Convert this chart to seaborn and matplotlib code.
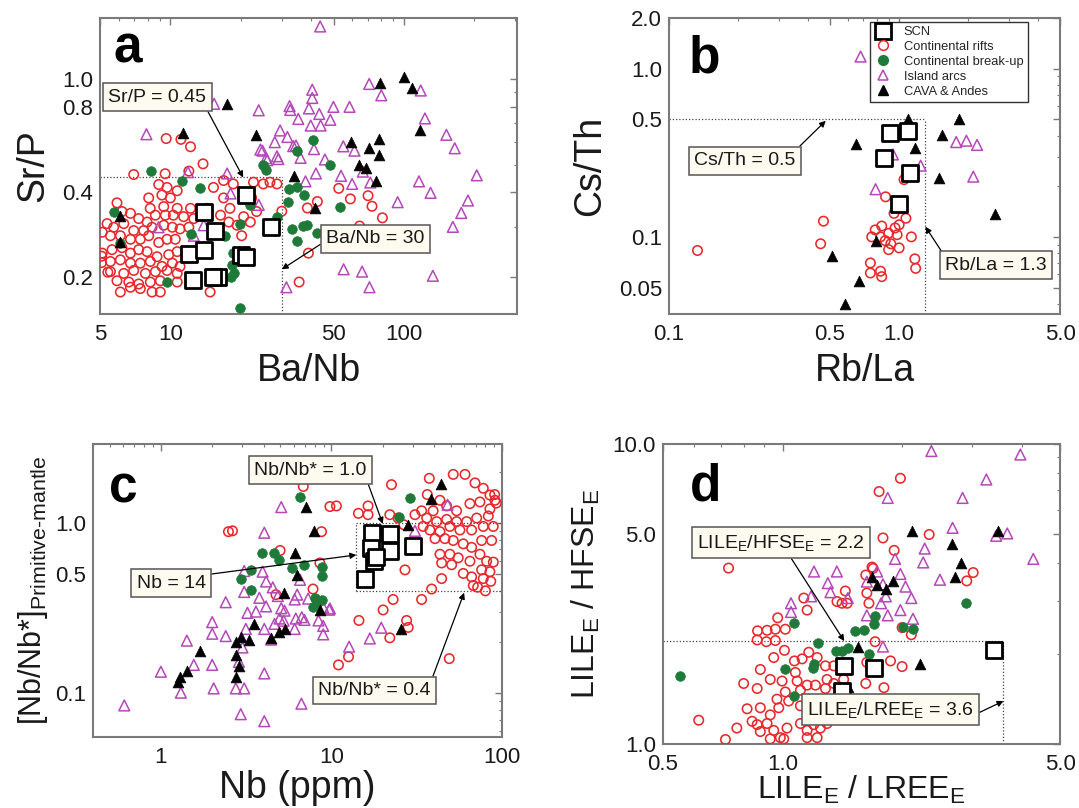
import numpy as np
import matplotlib
matplotlib.use("Agg")
import matplotlib.pyplot as plt
import seaborn as sns
from matplotlib.ticker import FixedLocator, FixedFormatter, LogLocator, NullFormatter
from matplotlib.lines import Line2D

# ---------------------------------------------------------------- data
groups = ["SCN", "Continental rifts", "Continental break-up", "Island arcs", "CAVA & Andes"]

# Panel a: Ba/Nb vs Sr/P
scn_a_x = [21, 14.0, 15.6, 12.0, 14.0, 27, 20, 21, 12.5, 16.0, 15.2]
scn_a_y = [0.39, 0.34, 0.29, 0.242, 0.25, 0.30, 0.24, 0.235, 0.195, 0.20, 0.20]

rift_a_x = [9.6, 11.1, 12.2, 13.8, 6.97, 9.5, 8.08, 8.92, 9.68, 10.7, 12.0, 9.2, 10.0, 8.2, 9.37,
            10.7, 12.2, 5.91, 6.21, 6.75, 7.32, 7.95, 8.63, 9.52, 10.3, 11.4, 12.6, 5.36, 5.72, 6.32,
            6.97, 7.69, 8.35, 9.37, 10.2, 11.0, 12.0, 5.11, 5.54, 6.11, 6.75, 7.44, 8.08, 8.92, 9.68,
            10.5, 5.11, 5.63, 6.21, 6.75, 7.32, 7.95, 8.77, 9.84, 10.7, 5.54, 6.11, 6.75, 7.44, 8.21,
            9.21, 10.2, 11.0, 5.54, 6.32, 6.97, 7.82, 8.63, 9.68, 10.7, 5.91, 6.64, 7.32, 8.21, 9.06,
            10.7, 6.11, 6.75, 7.44, 8.35, 9.06, 14.8, 16.9, 18.0, 16.4, 17.8, 19.3, 20.6, 22.0, 23.4,
            22.3, 25.0, 26.7, 28.6, 22.7, 18.6, 16.9, 20.2, 15.3, 14.3, 52.6, 59, 70.2, 73, 80.9,
            42.6, 38.6, 39, 35.6, 64.6, 5.08, 5.4, 5.08, 30.0]
rift_a_y = [0.618, 0.614, 0.578, 0.503, 0.461, 0.464, 0.381, 0.425, 0.415, 0.404, 0.474, 0.39, 0.381,
            0.35, 0.355, 0.35, 0.35, 0.366, 0.341, 0.336, 0.322, 0.313, 0.331, 0.331, 0.331, 0.327,
            0.322, 0.309, 0.30, 0.309, 0.292, 0.292, 0.30, 0.305, 0.30, 0.296, 0.30, 0.288, 0.28,
            0.28, 0.272, 0.272, 0.28, 0.265, 0.272, 0.272, 0.243, 0.25, 0.254, 0.243, 0.25, 0.246,
            0.236, 0.24, 0.246, 0.227, 0.23, 0.224, 0.224, 0.227, 0.218, 0.224, 0.218, 0.209, 0.206,
            0.211, 0.206, 0.209, 0.211, 0.206, 0.194, 0.192, 0.189, 0.192, 0.194, 0.192, 0.177,
            0.184, 0.182, 0.177, 0.177, 0.177, 0.381, 0.35, 0.331, 0.313, 0.305, 0.327, 0.313,
            0.341, 0.381, 0.427, 0.433, 0.427, 0.433, 0.427, 0.439, 0.28, 0.415, 0.35, 0.412,
            0.378, 0.388, 0.356, 0.324, 0.37, 0.351, 0.243, 0.192, 0.303, 0.237, 0.208, 0.225, 0.342]

brk_a_x = [8.3, 11.2, 13.4, 5.76, 6.07, 9.7, 19.8, 12.3, 19.8, 18.5, 18.7, 18.3, 22.0, 28.6, 32.0,
           32.3, 34.7, 33.3, 34.7, 25, 25.6, 34.7, 41, 48.3, 37.2, 53, 37, 38.5, 42.5, 17.2, 18.2]
brk_a_y = [0.476, 0.439, 0.413, 0.341, 0.263, 0.192, 0.155, 0.284, 0.307, 0.243, 0.206, 0.22, 0.36,
           0.327, 0.369, 0.409, 0.415, 0.296, 0.268, 0.50, 0.48, 0.557, 0.61, 0.50, 0.39, 0.354,
           0.303, 0.305, 0.287, 0.28, 0.20]

arc_a_x = [7.9, 11.9, 15.4, 17.5, 18.1, 23.9, 23.9, 24.8, 26, 29, 28, 29.5, 31.7, 32.4, 32.6, 34.5,
           31.4, 8.9, 12.6, 13.9, 24.3, 25.7, 28.6, 33.6, 55.2, 66.2, 71.2, 94, 116, 130, 188, 176,
           162, 205, 152, 165, 133, 123, 118, 80, 71, 58.5, 49.9, 48.4, 55, 61.4, 45.9, 60, 53.8,
           71.8, 66.7, 43.8, 40.5, 40.5, 39.2, 43.4, 44, 39.9, 35.3, 41.2, 36.1, 42, 37.9]
arc_a_y = [0.64, 0.47, 0.82, 0.465, 0.395, 0.36, 0.778, 0.56, 0.518, 0.523, 0.60, 0.66, 0.626, 0.805,
           0.78, 0.584, 0.184, 0.30, 0.28, 0.305, 0.565, 0.527, 0.535, 0.581, 0.213, 0.209, 0.184,
           0.368, 0.436, 0.397, 0.373, 0.337, 0.301, 0.458, 0.637, 0.571, 0.202, 0.728, 0.914,
           0.879, 0.964, 0.80, 0.80, 0.72, 0.58, 0.56, 0.521, 0.427, 0.456, 0.432, 0.472, 1.54,
           0.92, 0.86, 0.79, 0.755, 0.687, 0.687, 0.725, 0.567, 0.528, 0.465, 0.436]

cava_a_x = [17.5, 11.3, 23.2, 100, 79, 108, 117, 59.5, 78, 71, 78, 64.5, 69, 76, 34, 41.5, 6.1, 6.1]
cava_a_y = [0.82, 0.645, 0.636, 1.02, 0.97, 0.93, 0.66, 0.60, 0.615, 0.57, 0.54, 0.50, 0.485, 0.436,
            0.455, 0.35, 0.33, 0.265]

# Panel b: Rb/La vs Cs/Th
scn_b_x = [0.91, 1.09, 0.857, 1.12, 1.0]
scn_b_y = [0.416, 0.426, 0.294, 0.241, 0.156]

rift_b_x = [0.133, 0.469, 0.456, 0.873, 1.05, 1.07, 0.95, 1.0, 0.84, 0.787, 0.76, 0.83, 0.90, 0.98,
            0.92, 1.0, 1.13, 0.90, 0.75, 0.83, 0.75, 0.84, 1.17, 1.18, 0.87, 0.96]
rift_b_y = [0.083, 0.124, 0.091, 0.173, 0.219, 0.129, 0.138, 0.118, 0.116, 0.110, 0.10, 0.10, 0.105,
            0.103, 0.091, 0.086, 0.10, 0.084, 0.070, 0.0625, 0.061, 0.058, 0.074, 0.065, 0.095, 0.113]

brk_b_x = []
brk_b_y = []

arc_b_x = [0.68, 1.77, 1.96, 2.18, 2.1, 1.24, 0.79, 0.94]
arc_b_y = [1.18, 0.366, 0.373, 0.352, 0.228, 0.265, 0.192, 0.309]

cava_b_x = [1.09, 1.82, 1.54, 0.65, 1.17, 1.49, 2.61, 0.79, 0.51, 0.67, 0.58]
cava_b_y = [0.50, 0.50, 0.406, 0.356, 0.336, 0.225, 0.136, 0.095, 0.077, 0.055, 0.040]

# Panel c: Nb vs Nb/Nb* (primitive-mantle normalised)
scn_c_x = [17.4, 22, 17.1, 22, 29.9, 17.8, 15.7, 18.2]
scn_c_y = [0.87, 0.86, 0.71, 0.69, 0.737, 0.597, 0.472, 0.63]

rift_c_x = [6.84, 9.8, 10.7, 8.75, 14.4, 16.4, 16.4, 22.5, 22, 24.6, 26.6, 37.5, 36.5, 43.3, 51.8,
            60.7, 69.5, 77.7, 85, 47.4, 54.2, 64.9, 74.3, 85, 91, 39.5, 33.8, 30.9, 36.2, 41.4, 47.4,
            54.2, 62.1, 71.1, 83.2, 34.5, 37.8, 43.3, 49.5, 56.7, 66.4, 77.7, 88.9, 40.5, 46.3, 51.8,
            59.3, 66.4, 76, 87, 43.3, 49.5, 55.4, 64.9, 74.3, 81.3, 44.3, 50.7, 59.3, 66.4, 76, 85,
            77.7, 67.9, 44.3, 38.7, 33.8, 27, 23, 20.1, 14.5, 27.6, 28.2, 22, 12.6, 11, 49.1, 8.56,
            2.49, 2.63, 5.0, 4.73, 7.8, 72, 86, 80, 90.6, 92.7, 89]
rift_c_y = [1.64, 1.25, 1.26, 0.89, 1.14, 1.12, 1.26, 1.68, 1.12, 1.07, 0.977, 1.83, 1.47, 1.36, 1.93,
            1.93, 1.72, 1.60, 1.46, 1.26, 1.18, 1.30, 1.33, 1.21, 1.36, 1.18, 1.18, 1.12, 1.07, 1.02,
            1.05, 1.02, 1.02, 1.07, 1.10, 0.955, 0.91, 0.89, 0.955, 0.91, 0.91, 0.955, 0.955, 0.81,
            0.81, 0.79, 0.755, 0.72, 0.79, 0.79, 0.656, 0.656, 0.625, 0.597, 0.656, 0.597, 0.583,
            0.569, 0.506, 0.483, 0.531, 0.518, 0.472, 0.43, 0.472, 0.41, 0.356, 0.531, 0.356, 0.309,
            0.268, 0.268, 0.244, 0.212, 0.164, 0.147, 0.16, 0.583, 0.89, 0.90, 0.69, 0.38, 0.41,
            0.42, 0.455, 0.40, 1.47, 1.31, 0.59]

brk_c_x = [6.5, 25, 29, 31, 3.93, 4.6, 4.96, 5.9, 6.95, 3.37, 2.97, 3.37, 8.85, 8.75, 8.0, 8.75, 7.8, 8.2]
brk_c_y = [1.42, 1.08, 1.40, 0.76, 0.665, 0.665, 0.606, 0.544, 0.565, 0.533, 0.468, 0.407, 0.552,
           0.49, 0.362, 0.353, 0.322, 0.34]

arc_c_x = [5.08, 4.04, 2.40, 3.08, 3.95, 3.08, 4.14, 4.53, 3.78, 4.14, 4.85, 5.08, 3.22, 3.61, 4.96,
           5.31, 6.09, 6.18, 2.0, 2.0, 2.40, 3.15, 4.04, 4.64, 1.42, 1.56, 2.0, 3.01, 2.87, 4.04, 1.0,
           1.31, 2.04, 2.75, 3.08, 0.61, 2.94, 4.04, 4.43, 6.09, 6.67, 8.95, 9.8, 8.95, 8.95, 6.95,
           5.25, 12.7, 16.8, 19.6, 48, 30.9, 6.55, 6.3, 7.3, 6.7, 8.4, 9.7]
arc_c_y = [1.24, 0.877, 0.343, 0.523, 0.518, 0.394, 0.454, 0.419, 0.364, 0.324, 0.373, 0.316, 0.297,
           0.302, 0.275, 0.306, 0.356, 0.275, 0.262, 0.224, 0.217, 0.239, 0.239, 0.256, 0.204,
           0.147, 0.147, 0.186, 0.153, 0.131, 0.134, 0.101, 0.107, 0.107, 0.107, 0.085, 0.0755,
           0.0687, 0.207, 0.239, 0.087, 0.32, 0.315, 0.249, 0.222, 0.27, 0.267, 0.188, 0.21, 0.243,
           1.28, 0.90, 0.464, 0.38, 0.36, 0.28, 0.268, 0.31]

cava_c_x = [44, 38.2, 28.2, 7.1, 7.9, 8.6, 25.7, 6.09, 6.3, 5.24, 3.53, 2.94, 2.75, 2.75, 2.87, 2.75,
            1.70, 1.42, 1.30, 3.30, 4.43, 4.96, 5.31, 1.26]
cava_c_y = [1.69, 1.38, 0.97, 1.25, 0.90, 0.31, 0.238, 0.67, 0.494, 0.391, 0.256, 0.214, 0.20, 0.168,
            0.144, 0.125, 0.177, 0.136, 0.124, 0.207, 0.212, 0.228, 0.239, 0.117]

# Panel d: LILE_E/LREE_E vs LILE_E/HFSE_E
scn_d_x = [1.43, 1.70, 3.40, 1.41]
scn_d_y = [1.82, 1.79, 2.06, 1.50]

rift_d_x = [0.731, 0.972, 0.865, 0.914, 0.959, 1.016, 0.863, 0.910, 0.959, 1.153, 1.131, 1.439, 1.371,
            1.412, 1.454, 0.950, 1.011, 1.071, 1.120, 1.164, 1.222, 1.282, 1.346, 1.294, 1.077,
            1.088, 1.153, 1.210, 1.282, 1.346, 1.425, 0.879, 0.798, 0.863, 0.931, 0.997, 1.016,
            0.968, 1.109, 1.036, 0.814, 0.879, 0.931, 0.978, 1.109, 1.164, 1.222, 1.270, 1.320,
            0.615, 0.767, 0.718, 0.863, 0.914, 0.879, 0.950, 0.987, 1.026, 1.109, 1.153, 1.198,
            1.245, 1.294, 1.007, 1.153, 1.222, 0.931, 0.838, 1.98, 1.75, 2.34, 1.79, 1.91, 1.69,
            2.91, 3.02, 1.68, 1.62, 1.63, 1.65, 2.00, 2.11, 1.71, 1.87, 2.00, 1.63, 1.62, 1.80]
rift_d_y = [3.85, 2.63, 2.38, 2.39, 2.41, 2.41, 2.22, 2.19, 2.21, 2.79, 3.06, 3.23, 2.98, 2.94, 2.94,
            1.94, 2.05, 1.89, 1.92, 2.02, 1.94, 1.82, 1.82, 1.64, 1.73, 1.62, 1.57, 1.57, 1.53, 1.59,
            1.64, 1.77, 1.59, 1.53, 1.64, 1.62, 1.49, 1.41, 1.51, 1.39, 1.31, 1.32, 1.25, 1.32, 1.34,
            1.41, 1.32, 1.25, 1.38, 1.20, 1.13, 1.035, 1.16, 1.17, 1.10, 1.11, 1.05, 1.13, 1.17,
            1.11, 1.16, 1.13, 1.17, 1.04, 1.05, 1.05, 1.04, 1.19, 7.66, 6.92, 4.98, 4.85, 4.41,
            3.84, 3.49, 3.72, 3.88, 3.65, 3.18, 2.94, 2.44, 2.31, 2.19, 1.89, 1.81, 1.87, 1.59, 1.54]

brk_d_x = [0.553, 1.07, 1.015, 1.07, 1.20, 1.19, 1.23, 1.41, 1.46, 1.52, 1.60, 1.70, 1.71, 1.65, 2.01,
           2.13, 2.90, 1.36]
brk_d_y = [1.68, 2.52, 1.78, 1.44, 1.85, 1.79, 2.17, 2.04, 2.08, 2.38, 2.39, 2.51, 2.66, 1.99, 2.45,
           2.42, 2.94, 2.04]

arc_d_x = [2.37, 3.97, 3.26, 2.84, 1.84, 2.68, 3.45, 3.68, 2.28, 2.26, 4.28, 2.49, 1.92, 1.98, 2.04,
           2.11, 1.73, 1.63, 1.79, 1.82, 1.77, 1.98, 1.84, 1.63, 2.13, 1.79, 1.20, 1.37, 1.30, 1.32,
           1.46, 1.18, 1.05, 1.05]
arc_d_y = [9.44, 9.19, 7.59, 6.59, 6.59, 5.24, 4.93, 5.02, 4.47, 4.02, 4.13, 3.52, 4.13, 3.68, 3.34,
           3.06, 3.75, 3.47, 3.40, 3.10, 2.94, 2.79, 2.68, 2.68, 2.61, 2.11, 3.75, 3.75, 3.43, 3.20,
           3.06, 3.10, 2.94, 2.75]

cava_d_x = [2.12, 3.48, 2.67, 2.81, 2.72, 1.68, 1.73, 1.82, 1.90, 1.55, 2.22, 1.46]
cava_d_y = [5.1, 5.13, 4.63, 3.99, 3.59, 3.59, 3.37, 3.29, 3.49, 2.11, 1.85, 1.55]

# Reference values shown by the annotation boxes
SR_P_REF, BA_NB_REF = 0.45, 30
CS_TH_REF, RB_LA_REF = 0.5, 1.3
NB_REF, NBNB_HI, NBNB_LO = 14, 1.0, 0.4
HFSE_REF, LREE_REF = 2.2, 3.6

# ---------------------------------------------------------------- style
sns.set_theme(style="white")
plt.rcParams["font.family"] = ["Liberation Sans", "DejaVu Sans"]
plt.rcParams["mathtext.fontset"] = "custom"
plt.rcParams["mathtext.rm"] = "Liberation Sans"
plt.rcParams["mathtext.it"] = "Liberation Sans:italic"
plt.rcParams["mathtext.bf"] = "Liberation Sans:bold"

RED = "#e8282c"
GREEN = "#1f7a3a"
PURPLE = "#b548b8"
SPINE = "#7a7a7a"
TXT = "#1a1a1a"

fig = plt.figure(figsize=(10.79, 8.08), dpi=100)
fig.patch.set_facecolor("white")

ax_a = fig.add_axes([0.0927, 0.6114, 0.3865, 0.3663])
ax_b = fig.add_axes([0.6200, 0.6114, 0.3624, 0.3663])
ax_c = fig.add_axes([0.0862, 0.0879, 0.3790, 0.3632])
ax_d = fig.add_axes([0.6145, 0.0792, 0.3680, 0.3719])


def setup(ax, xlim, ylim, xt, xl, yt, yl):
    ax.set_xscale("log")
    ax.set_yscale("log")
    ax.set_xlim(*xlim)
    ax.set_ylim(*ylim)
    ax.xaxis.set_major_locator(FixedLocator(xt))
    ax.xaxis.set_major_formatter(FixedFormatter(xl))
    ax.yaxis.set_major_locator(FixedLocator(yt))
    ax.yaxis.set_major_formatter(FixedFormatter(yl))
    ax.xaxis.set_minor_locator(LogLocator(base=10, subs=np.arange(1, 10), numticks=50))
    ax.yaxis.set_minor_locator(LogLocator(base=10, subs=np.arange(1, 10), numticks=50))
    ax.xaxis.set_minor_formatter(NullFormatter())
    ax.yaxis.set_minor_formatter(NullFormatter())
    ax.tick_params(which="both", direction="in", top=True, right=True, colors=SPINE,
                   labelcolor=TXT)
    ax.tick_params(which="major", length=5, width=1.0, labelsize=16)
    ax.tick_params(axis="x", which="major", pad=7)
    ax.tick_params(axis="y", which="major", pad=5)
    ax.tick_params(which="minor", length=2.5, width=0.8)
    for sp in ax.spines.values():
        sp.set_color(SPINE)
        sp.set_linewidth(1.5)
    ax.set_facecolor("white")


def draw(ax, xs, ys, marker, size, color, edge, lw, filled, z):
    if len(xs) == 0:
        return
    sns.scatterplot(x=xs, y=ys, ax=ax, marker=marker, s=size, color=color,
                    edgecolor=edge, linewidth=lw, zorder=z, legend=False)
    if not filled:
        ax.collections[-1].set_facecolor("none")


def draw_all(ax, scn, rift, brk, arc, cava):
    draw(ax, *rift, "o", 46, RED, RED, 1.15, False, 3)
    draw(ax, *arc, "^", 60, PURPLE, PURPLE, 1.1, False, 4)
    draw(ax, *brk, "o", 48, GREEN, GREEN, 0.5, True, 5)
    draw(ax, *cava, "^", 60, "black", "black", 0.5, True, 6)
    draw(ax, *scn, "s", 125, "white", "black", 2.0, True, 7)


def refline(ax, xs, ys):
    ax.plot(xs, ys, color="#444444", lw=0.9, dashes=(1, 1.6), zorder=2)


box = dict(boxstyle="square,pad=0.28", fc="#fdfaf0", ec="#555555", lw=1.1)


def note(ax, text, xy, xytext, relpos):
    ax.annotate(text, xy=xy, xytext=xytext, textcoords="data", ha="center", va="center",
                fontsize=14, color=TXT, bbox=box, zorder=10,
                arrowprops=dict(arrowstyle="-|>", color="black", lw=0.9, mutation_scale=9,
                                relpos=relpos, shrinkA=0, shrinkB=0))


def letter(ax, s, x, y):
    ax.text(x, y, s, transform=ax.transAxes, fontsize=37, fontweight="bold", color="black",
            ha="left", va="baseline", zorder=11)


# ---------------------------------------------------------------- panel a
setup(ax_a, (5, 305), (0.148, 1.65), [5, 10, 50, 100], ["5", "10", "50", "100"],
      [0.2, 0.4, 0.8, 1.0], ["0.2", "0.4", "0.8", "1.0"])
draw_all(ax_a, (scn_a_x, scn_a_y), (rift_a_x, rift_a_y), (brk_a_x, brk_a_y),
         (arc_a_x, arc_a_y), (cava_a_x, cava_a_y))
refline(ax_a, [5, BA_NB_REF], [SR_P_REF, SR_P_REF])
refline(ax_a, [BA_NB_REF, BA_NB_REF], [0.148, SR_P_REF])
note(ax_a, f"Sr/P = {SR_P_REF}", (20.5, SR_P_REF), (8.8, 0.865), (0.98, 0.05))
note(ax_a, f"Ba/Nb = {BA_NB_REF}", (BA_NB_REF, 0.213), (75.5, 0.273), (0.0, 0.4))
ax_a.set_xlabel("Ba/Nb", fontsize=27, color=TXT, labelpad=6)
ax_a.set_ylabel("Sr/P", fontsize=27, color=TXT, labelpad=8)
letter(ax_a, "a", 0.032, 0.85)

# ---------------------------------------------------------------- panel b
setup(ax_b, (0.1, 5.0), (0.0348, 2.0), [0.1, 0.5, 1.0, 5.0], ["0.1", "0.5", "1.0", "5.0"],
      [0.05, 0.1, 0.5, 1.0, 2.0], ["0.05", "0.1", "0.5", "1.0", "2.0"])
draw_all(ax_b, (scn_b_x, scn_b_y), (rift_b_x, rift_b_y), (brk_b_x, brk_b_y),
         (arc_b_x, arc_b_y), (cava_b_x, cava_b_y))
refline(ax_b, [0.1, RB_LA_REF], [CS_TH_REF, CS_TH_REF])
refline(ax_b, [RB_LA_REF, RB_LA_REF], [0.0348, CS_TH_REF])
note(ax_b, f"Cs/Th = {CS_TH_REF}", (0.48, 0.49), (0.214, 0.284), (0.98, 1.0))
note(ax_b, f"Rb/La = {RB_LA_REF}", (RB_LA_REF, 0.115), (2.63, 0.068), (0.0, 1.0))
ax_b.set_xlabel("Rb/La", fontsize=27, color=TXT, labelpad=6)
ax_b.set_ylabel("Cs/Th", fontsize=27, color=TXT, labelpad=8)
letter(ax_b, "b", 0.049, 0.815)

handles = [
    Line2D([], [], ls="none", marker="s", ms=11.5, mfc="white", mec="black", mew=2.0),
    Line2D([], [], ls="none", marker="o", ms=7, mfc="none", mec=RED, mew=1.1),
    Line2D([], [], ls="none", marker="o", ms=7, mfc=GREEN, mec=GREEN),
    Line2D([], [], ls="none", marker="^", ms=7.5, mfc="none", mec=PURPLE, mew=1.1),
    Line2D([], [], ls="none", marker="^", ms=7.5, mfc="black", mec="black"),
]
leg = ax_b.legend(handles, groups, loc="upper right", bbox_to_anchor=(0.918, 0.988),
                  fontsize=9.3, frameon=True, fancybox=False, edgecolor="#333333",
                  framealpha=1, borderpad=0.35, labelspacing=0.22, handlelength=1.4,
                  handletextpad=0.9, borderaxespad=0)
leg.get_frame().set_linewidth(1.0)
leg.set_zorder(12)

# ---------------------------------------------------------------- panel c
setup(ax_c, (0.4, 100), (0.0555, 2.93), [1, 10, 100], ["1", "10", "100"],
      [0.1, 0.5, 1.0], ["0.1", "0.5", "1.0"])
draw_all(ax_c, (scn_c_x, scn_c_y), (rift_c_x, rift_c_y), (brk_c_x, brk_c_y),
         (arc_c_x, arc_c_y), (cava_c_x, cava_c_y))
refline(ax_c, [NB_REF, 100], [NBNB_HI, NBNB_HI])
refline(ax_c, [NB_REF, 100], [NBNB_LO, NBNB_LO])
refline(ax_c, [NB_REF, NB_REF], [NBNB_LO, NBNB_HI])
note(ax_c, f"Nb/Nb* = {NBNB_HI}", (20, 0.99), (7.55, 2.04), (0.99, 0.1))
note(ax_c, f"Nb = {NB_REF}", (NB_REF, 0.65), (1.15, 0.443), (1.0, 1.0))
note(ax_c, f"Nb/Nb* = {NBNB_LO}", (60, 0.39), (17.9, 0.104), (1.0, 1.0))
ax_c.set_xlabel("Nb (ppm)", fontsize=27, color=TXT)
ax_c.xaxis.label.set_va("bottom")
ax_c.xaxis.set_label_coords(0.5, -0.236)
ax_c.set_ylabel("[Nb/Nb*]$_\\mathregular{Primitive\u2010mantle}$", fontsize=22, color=TXT,
                labelpad=4)
letter(ax_c, "c", 0.039, 0.80)

# ---------------------------------------------------------------- panel d
setup(ax_d, (0.5, 5.0), (1.0, 10.0), [0.5, 1.0, 5.0], ["0.5", "1.0", "5.0"],
      [1.0, 5.0, 10.0], ["1.0", "5.0", "10.0"])
draw_all(ax_d, (scn_d_x, scn_d_y), (rift_d_x, rift_d_y), (brk_d_x, brk_d_y),
         (arc_d_x, arc_d_y), (cava_d_x, cava_d_y))
refline(ax_d, [0.5, LREE_REF], [HFSE_REF, HFSE_REF])
refline(ax_d, [LREE_REF, LREE_REF], [1.0, HFSE_REF])
note(ax_d, f"LILE$_\\mathregular{{E}}$/HFSE$_\\mathregular{{E}}$ = {HFSE_REF}",
     (1.43, HFSE_REF), (0.99, 4.68), (0.54, 0.0))
note(ax_d, f"LILE$_\\mathregular{{E}}$/LREE$_\\mathregular{{E}}$ = {LREE_REF}",
     (LREE_REF, 1.39), (1.87, 1.30), (1.0, 0.23))
ax_d.set_xlabel("LILE$_\\mathregular{E}$ / LREE$_\\mathregular{E}$", fontsize=23, color=TXT)
ax_d.xaxis.label.set_va("bottom")
ax_d.xaxis.set_label_coords(0.5, -0.207)
ax_d.set_ylabel("LILE$_\\mathregular{E}$ / HFSE$_\\mathregular{E}$", fontsize=23, color=TXT,
                labelpad=8)
letter(ax_d, "d", 0.067, 0.811)

fig.savefig("out.png", dpi=100, facecolor="white")
